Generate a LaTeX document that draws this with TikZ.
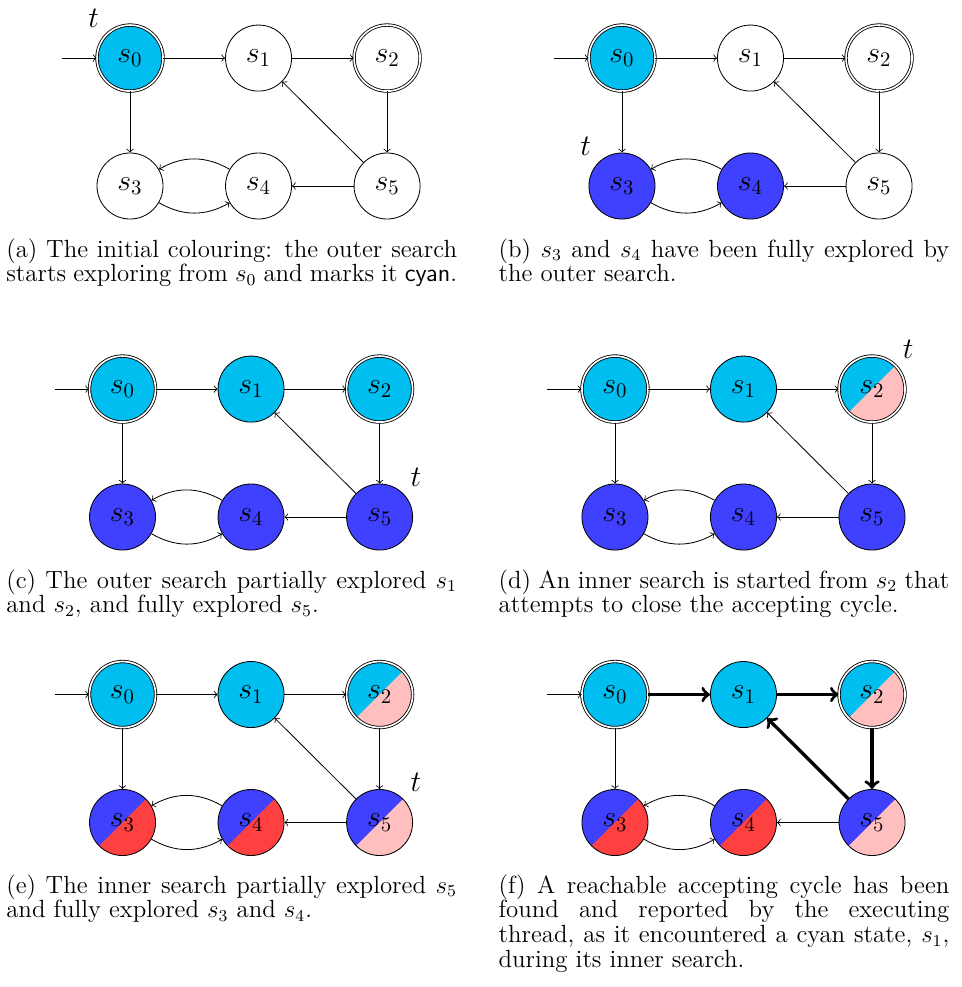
\documentclass[tikz,border=0pt]{standalone}
\usetikzlibrary{positioning}

\definecolor{outercyan}{RGB}{0,191,240}
\colorlet{outerblue}{blue!75}
\colorlet{innerred}{red!75}
\colorlet{innerpink}{red!25}

\tikzset{
    state/.style={circle, draw, minimum size=1.12cm, inner sep=0pt, font=\Large},
    accepting/.style={double, double distance=0.8pt},
    every label/.style={font=\Large},
    % two colours, split along the diagonal
    half/.style 2 args={path picture={
        \fill[#1] (path picture bounding box.south west) rectangle (path picture bounding box.north east);
        \fill[#2] (path picture bounding box.south west) -- (path picture bounding box.south east)
            -- (path picture bounding box.north east) -- cycle;}},
    caption/.style={anchor=base west, text width=217.5pt, align=justify, inner sep=0pt,
        font=\fontsize{12}{12.05}\selectfont},
    cycle edge/.style={->, ultra thick},
}

\begin{document}
\begin{tikzpicture}
    \useasboundingbox (0,0) rectangle (16.30,16.74);

    % (a) initial colouring
    \begin{scope}[shift={(2.205,13.585)}]
        \node[state, accepting, fill=outercyan, label=135:$t$] (a0) at (0,2.17) {$s_0$};
        \node[state] (a1) at (2.18,2.17) {$s_1$};
        \node[state, accepting] (a2) at (4.36,2.17) {$s_2$};
        \node[state] (a3) at (0,0) {$s_3$};
        \node[state] (a4) at (2.18,0) {$s_4$};
        \node[state] (a5) at (4.36,0) {$s_5$};
    \end{scope}

    % (b) s3 and s4 done
    \begin{scope}[shift={(10.549,13.585)}]
        \node[state, accepting, fill=outercyan] (b0) at (0,2.17) {$s_0$};
        \node[state] (b1) at (2.18,2.17) {$s_1$};
        \node[state, accepting] (b2) at (4.36,2.17) {$s_2$};
        \node[state, fill=outerblue, label=135:$t$] (b3) at (0,0) {$s_3$};
        \node[state, fill=outerblue] (b4) at (2.18,0) {$s_4$};
        \node[state] (b5) at (4.36,0) {$s_5$};
    \end{scope}

    % (c) outer search reaches s5
    \begin{scope}[shift={(2.078,7.971)}]
        \node[state, accepting, fill=outercyan] (c0) at (0,2.17) {$s_0$};
        \node[state, fill=outercyan] (c1) at (2.18,2.17) {$s_1$};
        \node[state, accepting, fill=outercyan] (c2) at (4.36,2.17) {$s_2$};
        \node[state, fill=outerblue] (c3) at (0,0) {$s_3$};
        \node[state, fill=outerblue] (c4) at (2.18,0) {$s_4$};
        \node[state, fill=outerblue, label=45:$t$] (c5) at (4.36,0) {$s_5$};
    \end{scope}

    % (d) inner search from s2
    \begin{scope}[shift={(10.43,7.971)}]
        \node[state, accepting, fill=outercyan] (d0) at (0,2.17) {$s_0$};
        \node[state, fill=outercyan] (d1) at (2.18,2.17) {$s_1$};
        \node[state, accepting, half={outercyan}{innerpink}, label=45:$t$] (d2) at (4.36,2.17) {$s_2$};
        \node[state, fill=outerblue] (d3) at (0,0) {$s_3$};
        \node[state, fill=outerblue] (d4) at (2.18,0) {$s_4$};
        \node[state, fill=outerblue] (d5) at (4.36,0) {$s_5$};
    \end{scope}

    % (e) inner search
    \begin{scope}[shift={(2.078,2.79)}]
        \node[state, accepting, fill=outercyan] (e0) at (0,2.17) {$s_0$};
        \node[state, fill=outercyan] (e1) at (2.18,2.17) {$s_1$};
        \node[state, accepting, half={outercyan}{innerpink}] (e2) at (4.36,2.17) {$s_2$};
        \node[state, half={outerblue}{innerred}] (e3) at (0,0) {$s_3$};
        \node[state, half={outerblue}{innerred}] (e4) at (2.18,0) {$s_4$};
        \node[state, half={outerblue}{innerpink}, label=45:$t$] (e5) at (4.36,0) {$s_5$};
    \end{scope}

    % (f) cycle found
    \begin{scope}[shift={(10.43,2.79)}]
        \node[state, accepting, fill=outercyan] (f0) at (0,2.17) {$s_0$};
        \node[state, fill=outercyan] (f1) at (2.18,2.17) {$s_1$};
        \node[state, accepting, half={outercyan}{innerpink}] (f2) at (4.36,2.17) {$s_2$};
        \node[state, half={outerblue}{innerred}] (f3) at (0,0) {$s_3$};
        \node[state, half={outerblue}{innerred}] (f4) at (2.18,0) {$s_4$};
        \node[state, half={outerblue}{innerpink}] (f5) at (4.36,0) {$s_5$};
    \end{scope}

    % Transitions
    \foreach \p in {a,...,f} {
        \coordinate[left=0.58cm of \p0] (\p i);
        \draw[->] (\p i) -- (\p0);
        \draw[->] (\p0) -- (\p3);
        \draw[->] (\p4) to[bend right] (\p3);
        \draw[->] (\p3) to[bend right] (\p4);
        \draw[->] (\p5) -- (\p4);
    }
    \foreach \p in {a,...,e} {
        \draw[->] (\p0) -- (\p1);
        \draw[->] (\p1) -- (\p2);
        \draw[->] (\p2) -- (\p5);
        \draw[->] (\p5) -- (\p1);
    }
    \draw[cycle edge] (f0) -- (f1);
    \draw[cycle edge] (f1) -- (f2);
    \draw[cycle edge] (f2) -- (f5);
    \draw[cycle edge] (f5) -- (f1);

    % Captions
    \node[caption] (capa) at (0.10,12.381) {(a) The initial colouring: the outer search starts exploring from $s_0$ and marks it \textsf{cyan}.};
    \node[caption] (capb) at (8.45,12.381) {(b) $s_3$ and $s_4$ have been fully explored by the outer search.};
    \node[caption] (capc) at (0.10,6.767) {(c) The outer search partially explored $s_1$ and $s_2$, and fully explored $s_5$.};
    \node[caption] (capd) at (8.45,6.767) {(d) An inner search is started from $s_2$ that attempts to close the accepting cycle.};
    \node[caption] (cape) at (0.10,1.594) {(e) The inner search partially explored $s_5$ and fully explored $s_3$ and $s_4$.};
    \node[caption] (capf) at (8.45,1.594) {(f) A reachable accepting cycle has been found and reported by the executing thread, as it encountered a cyan state, $s_1$, during its inner search.};
\end{tikzpicture}
\end{document}
